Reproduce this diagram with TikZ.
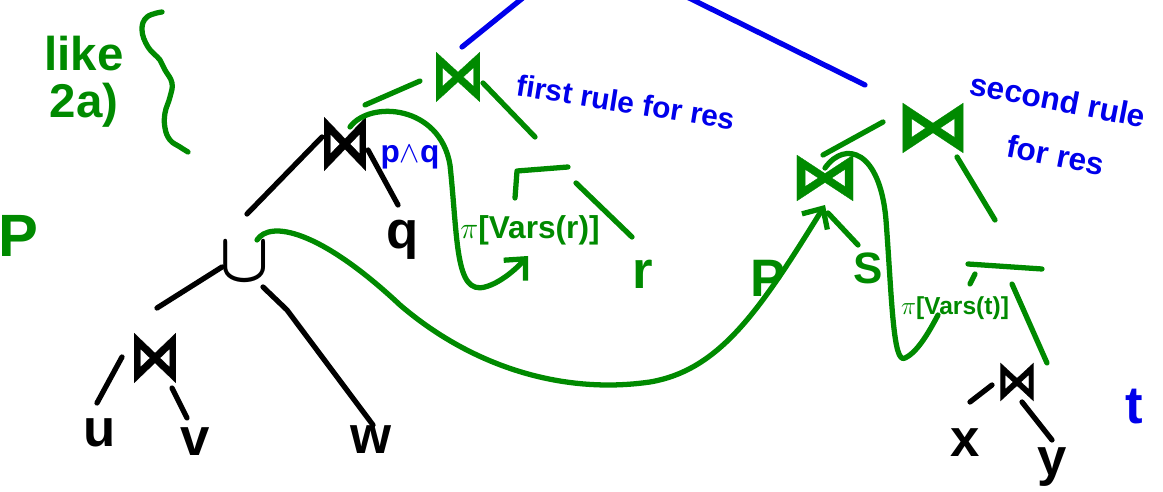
\documentclass[tikz,border=0pt]{standalone}
\usepackage{fontspec}
\setmainfont{Liberation Sans}
\newfontfamily\tiefont[FakeBold=0.5]{DejaVu Sans}
\usepackage{graphicx}
\usetikzlibrary{arrows.meta}
\definecolor{penGreen}{RGB}{0,138,0}
\definecolor{penBlue}{RGB}{0,0,235}
\newcommand{\jn}[2]{\scalebox{#1}[#2]{\tiefont ⋈}}
\begin{document}
\begin{tikzpicture}[x=0.02cm,y=-0.02cm,
  pen/.style={line width=3pt,line cap=round,line join=round},
  barb/.style={-{Straight Barb[length=9pt,width=17pt]}},
  ink/.style={font=\bfseries\fontsize{30}{32}\selectfont,inner sep=0pt},
  gink/.style={ink,text=penGreen},
  bink/.style={font=\bfseries\fontsize{18}{20}\selectfont,text=penBlue,inner sep=0pt}]
\clip (0,0) rectangle (1163,492);
% black tree
\node[ink] (jpq) at (345,144) {\jn{1.0}{1.4}};
\node[bink] (pq) at (410,157) {p$\wedge$q};
\node[ink] (q) at (403,240) {q};
\node[ink] (cup) at (245,262) {\scalebox{1.5}[1.6]{\boldmath$\cup$}};
\node[ink] (juv) at (155,358) {\jn{1.0}{1.3}};
\node[ink] (u) at (100,433) {u};
\node[ink] (v) at (195,442) {v};
\node[ink] (w) at (371,440) {w};
\draw[pen](jpq)++(-23,-7)--++(-75,77);
\draw[pen](jpq)++(23,6)--++(30,55);
\draw[pen](cup)++(-23,5)--++(-65,41);
\draw[pen](cup)++(18,25)--++(24,23)--++(86,115);
\draw[pen](juv)++(-33,-1)--++(-25,46);
\draw[pen](juv)++(17,30)--++(15,30);
% right tree
\node[ink] (jxy) at (1017,382) {\jn{0.8}{1.0}};
\node[ink] (x) at (965,443) {x};
\node[ink] (y) at (1052,467) {y};
\node[bink,font=\bfseries\fontsize{30}{32}\selectfont] (t) at (1134,407) {t};
\draw[pen](jxy)++(-25,3)--++(-22,17);
\draw[pen](jxy)++(5,20)--++(30,38);
% green notes
\node[gink,align=center,font=\bfseries\fontsize{27}{27}\selectfont] (like) at (84,82) {like\\2a)};
\draw[pen,penGreen] plot[smooth,tension=0.7] coordinates {(162,12) (147,17) (142,30) (148,47) (160,60) (165,70) (172,83) (170,97) (165,113) (165,128) (170,140) (180,147) (188,152)};
\node[gink,font=\bfseries\fontsize{34}{36}\selectfont] (P) at (18,236) {P};
\node[gink] (jr) at (458,77) {\jn{1.05}{1.3}};
\node[gink,font=\bfseries\fontsize{18}{20}\selectfont] (pir) at (530,230) {$\pi$[Vars(r)]};
\node[gink] (r) at (643,274) {r};
\draw[pen,penGreen](jr)++(-38,4)--++(-55,24);
\draw[pen,penGreen](jr)++(25,6)--++(52,54);
\draw[pen,penGreen](pir)++(-15,-32)--++(2,-27)--++(51,-4);
\draw[pen,penGreen](pir)++(46,-47)--++(56,54);
\draw[pen,penGreen,barb](jpq)++(5,-17) .. controls (370,100) and (440,105) .. (450,165) .. controls (458,240) and (455,295) .. (485,287) .. controls (500,283) and (515,270) .. ([shift={(-2,26)}]pir.center);
\node[gink] (jps) at (825,178) {\jn{1.35}{1.2}};
\node[gink] (P2) at (768,278) {P};
\node[gink,font=\bfseries\fontsize{25}{27}\selectfont] (S) at (868,268) {S};
\node[gink] (jst) at (933,128) {\jn{1.45}{1.3}};
\node[gink,font=\bfseries\fontsize{14}{16}\selectfont] (pit) at (955,308) {$\pi$[Vars(t)]};
\draw[pen,penGreen](jps)++(3,35)--++(30,32);
\draw[pen,penGreen](jps)++(-2,-23)--++(60,-33);
\draw[pen,penGreen](jst)++(24,29)--++(38,63);
\draw[pen,penGreen](pit)++(13,-44)--++(74,5);
\draw[pen,penGreen](pit)++(20,-34)--++(-5,10);
\draw[pen,penGreen](pit)++(57,-24)--++(35,79);
\draw[pen,penGreen,barb](cup)++(12,-22) .. controls (270,220) and (320,230) .. (400,305) .. controls (470,365) and (560,395) .. (650,382) .. controls (720,370) and (760,310) .. ([shift={(0,27)}]jps.center);
\draw[pen,penGreen](jps)++(0,-10) .. controls (845,140) and (880,150) .. (886,220) .. controls (892,300) and (893,365) .. (905,358) .. controls (918,352) and (930,330) .. ([shift={(-17,7)}]pit.center);
% blue notes
\node[bink,font=\bfseries\fontsize{17}{19}\selectfont,rotate=-9] (rule1) at (626,102) {first rule for res};
\node[bink,font=\bfseries\fontsize{18}{20}\selectfont,rotate=-11] (rule2a) at (1058,100) {second rule};
\node[bink,font=\bfseries\fontsize{18}{20}\selectfont,rotate=-11] (rule2b) at (1056,155) {for res};
\coordinate (root) at (586,-53);
\draw[pen,penBlue](jr)++(4,-30)--(root);
\draw[pen,penBlue](jst)++(-68,-43)--(root);
\end{tikzpicture}
\end{document}
